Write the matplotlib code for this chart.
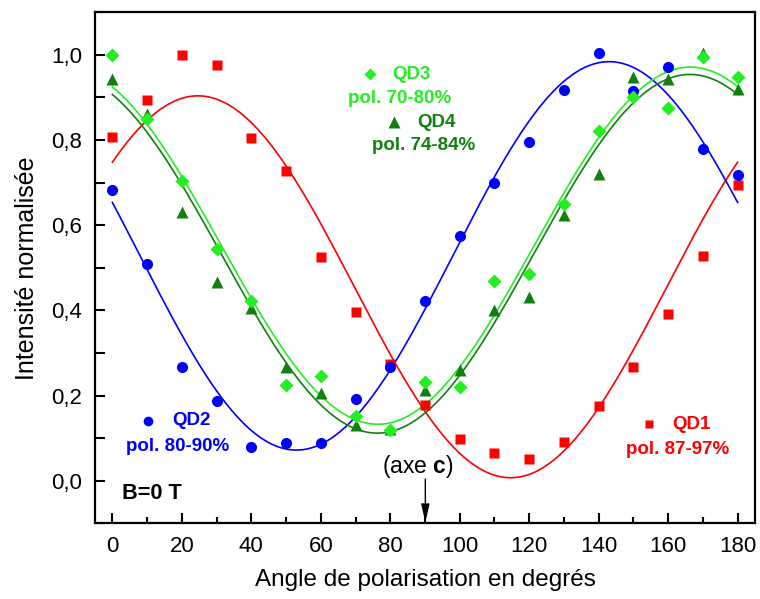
import matplotlib
matplotlib.use("Agg")
import matplotlib.pyplot as plt
from matplotlib.ticker import MultipleLocator, FuncFormatter
import numpy as np

plt.rcParams['font.family'] = ['Liberation Sans', 'DejaVu Sans']
plt.rcParams['mathtext.fontset'] = 'custom'
plt.rcParams['mathtext.rm'] = 'Liberation Sans'
plt.rcParams['mathtext.bf'] = 'Liberation Sans:bold'

angles = np.arange(0, 181, 10)

# QD1 (rouge)
qd1 = [0.806, 0.894, 0.999, 0.976, 0.804, 0.728, 0.526, 0.397, 0.274, 0.177,
       0.098, 0.066, 0.052, 0.092, 0.175, 0.268, 0.391, 0.527, 0.695]
# QD2 (bleu)
qd2 = [0.682, 0.508, 0.266, 0.186, 0.080, 0.089, 0.089, 0.192, 0.268, 0.423,
       0.574, 0.699, 0.796, 0.917, 1.004, 0.915, 0.972, 0.779, 0.718]
# QD3 (vert clair)
qd3 = [0.999, 0.849, 0.704, 0.545, 0.423, 0.225, 0.245, 0.153, 0.120, 0.232,
       0.221, 0.469, 0.485, 0.650, 0.822, 0.901, 0.875, 0.994, 0.948]
# QD4 (vert fonce)
qd4 = [0.943, 0.862, 0.630, 0.466, 0.405, 0.268, 0.207, 0.131, 0.122, 0.212,
       0.260, 0.400, 0.432, 0.624, 0.720, 0.947, 0.943, 1.005, 0.921]

c_red = '#ff0000'
c_blue = '#0000ff'
c_lgreen = '#22ee22'
c_dgreen = '#118011'


def fit_curve(x, y, xx):
    # ajustement y = a + b cos(2t) + c sin(2t)
    t = np.radians(x)
    M = np.column_stack([np.ones_like(t), np.cos(2 * t), np.sin(2 * t)])
    coef = np.linalg.lstsq(M, np.asarray(y), rcond=None)[0]
    tt = np.radians(xx)
    return coef[0] + coef[1] * np.cos(2 * tt) + coef[2] * np.sin(2 * tt)


fig = plt.figure(figsize=(7.6, 5.99), dpi=100)
ax = fig.add_axes([0.125, 0.1264, 0.8684, 0.8531])

xx = np.linspace(0, 180, 400)
ax.plot(xx, fit_curve(angles, qd1, xx), color=c_red, lw=1.2)
ax.plot(xx, fit_curve(angles, qd2, xx), color=c_blue, lw=1.2)
ax.plot(xx, fit_curve(angles, qd3, xx), color=c_lgreen, lw=1.2)
ax.plot(xx, fit_curve(angles, qd4, xx), color=c_dgreen, lw=1.2)

ax.plot(angles, qd1, 's', color=c_red, ms=7.5, mec='none')
ax.plot(angles, qd2, 'o', color=c_blue, ms=8, mec='none')
ax.plot(angles, qd4, '^', color=c_dgreen, ms=9, mec='none')
ax.plot(angles, qd3, 'D', color=c_lgreen, ms=7.5, mec='none')

ax.set_xlim(-5, 185)
ax.set_ylim(-0.1, 1.1)
ax.xaxis.set_major_locator(MultipleLocator(20))
ax.xaxis.set_minor_locator(MultipleLocator(10))
ax.yaxis.set_major_locator(MultipleLocator(0.2))
ax.yaxis.set_minor_locator(MultipleLocator(0.1))
ax.yaxis.set_major_formatter(FuncFormatter(lambda v, p: ('%.1f' % v).replace('.', ',')))
ax.tick_params(which='major', direction='in', length=7, width=1.5, labelsize=16, pad=9)
ax.tick_params(axis='y', which='minor', direction='in', length=7, width=1.5)
ax.tick_params(axis='x', which='minor', direction='in', length=4, width=1.5)
for s in ax.spines.values():
    s.set_linewidth(1.6)

ax.set_xlabel('Angle de polarisation en degrés', fontsize=17.5, labelpad=9)
ax.set_ylabel('Intensité normalisée', fontsize=18, labelpad=9)

# etiquettes
lab = dict(fontsize=13.5, fontweight='bold', va='center')
ax.plot([74.1], [0.955], 'D', color=c_lgreen, ms=6.5, mec='none')
ax.text(80.5, 0.955, 'QD3', color=c_lgreen, **lab)
ax.text(82.6, 0.897, 'pol. 70-80%', color=c_lgreen, ha='center', **lab)
ax.plot([81.0], [0.842], '^', color=c_dgreen, ms=8, mec='none')
ax.text(87.7, 0.842, 'QD4', color=c_dgreen, **lab)
ax.text(89.7, 0.787, 'pol. 74-84%', color=c_dgreen, ha='center', **lab)

ax.plot([10.4], [0.141], 'o', color=c_blue, ms=7, mec='none')
ax.text(17.1, 0.141, 'QD2', color=c_blue, **lab)
ax.text(18.9, 0.080, 'pol. 80-90%', color=c_blue, ha='center', **lab)

ax.plot([154.5], [0.133], 's', color=c_red, ms=5.8, mec='none')
ax.text(161.1, 0.133, 'QD1', color=c_red, **lab)
ax.text(162.8, 0.074, 'pol. 87-97%', color=c_red, ha='center', **lab)

ax.text(2.7, -0.031, 'B=0 T', fontsize=15.7, fontweight='bold', va='center')
ax.text(88.0, 0.0335, '(axe $\\mathbf{c}$)', fontsize=16.5, va='center', ha='center')
ax.annotate('', xy=(90.1, -0.098), xytext=(90.1, 0.004),
            arrowprops=dict(arrowstyle='-|>,head_length=1.1,head_width=0.25',
                            color='black', lw=1.0, mutation_scale=10,
                            shrinkA=0, shrinkB=0))

fig.savefig('out.png', dpi=100)
